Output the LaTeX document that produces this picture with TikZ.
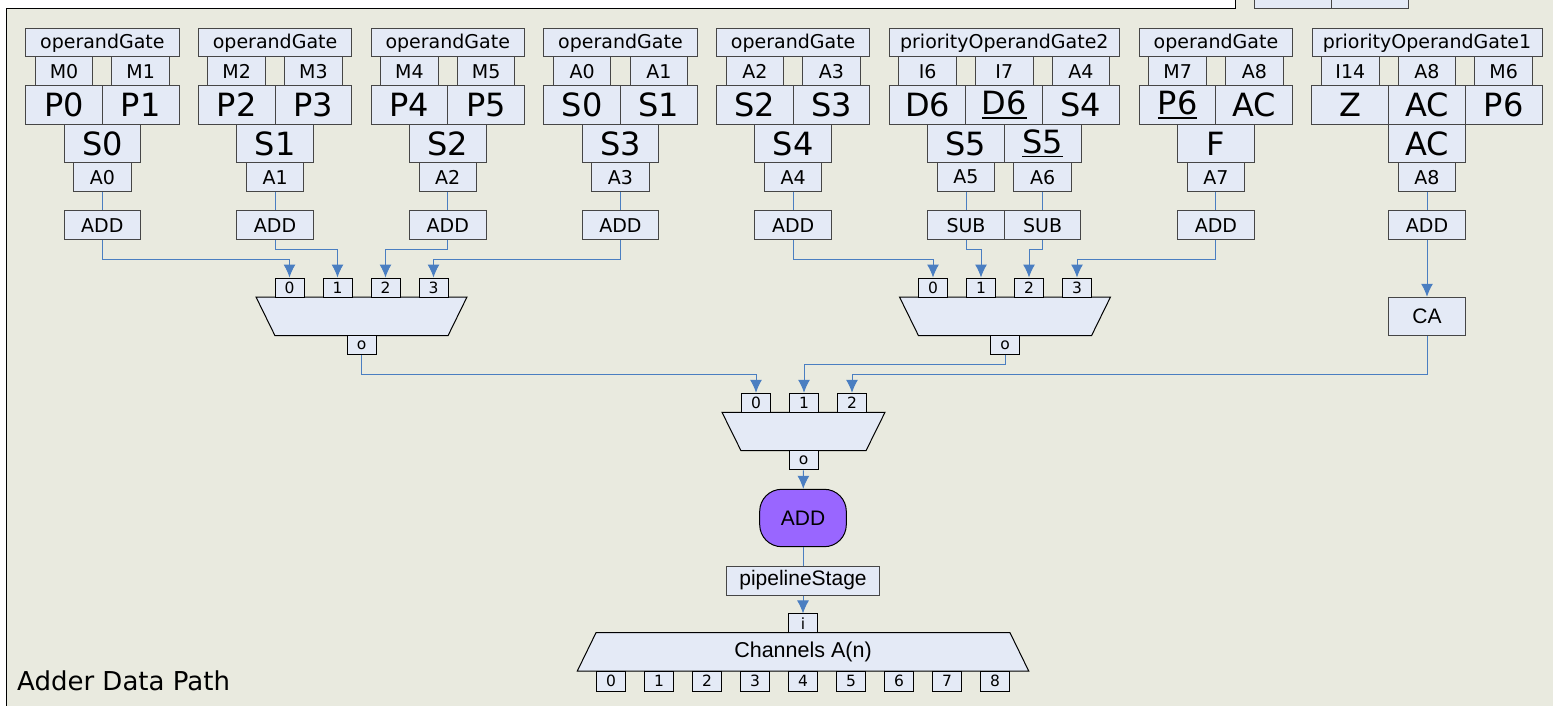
\documentclass[tikz,border=0pt]{standalone}
\usepackage{fontspec}
\setmainfont{DejaVu Sans}
\newfontfamily\arialfont{Liberation Sans}
\usepackage{tikz}
\usetikzlibrary{shapes,arrows,arrows.meta,positioning,calc}
\definecolor{panelbg}{RGB}{233,234,223}
\definecolor{cellfill}{RGB}{228,234,246}
\definecolor{cellline}{RGB}{70,70,70}
\definecolor{wireblue}{RGB}{74,126,193}
\definecolor{opviolet}{RGB}{153,102,255}
\newcommand{\ulabel}[1]{\setbox0\hbox{#1}\rlap{\rule[-4pt]{\wd0}{1.8pt}}\box0}

\begin{document}
\begin{tikzpicture}[x=1pt,y=-1pt,>={Latex[length=13pt,width=12pt]},
  cell/.style={draw=cellline,fill=cellfill,line width=1pt,inner sep=0pt,minimum height=29pt,font=\fontsize{19}{21}\selectfont},
  title/.style={cell,minimum height=28.3pt},
  pin/.style={cell,minimum width=57.5pt,minimum height=28.7pt},
  big/.style={cell,minimum width=76.7pt,minimum height=38.5pt,font=\fontsize{32}{34}\selectfont},
  tag/.style={cell,minimum width=57.4pt},
  op/.style={cell,minimum width=76.5pt},
  port/.style={cell,draw=black,minimum width=29pt,minimum height=19pt,font=\fontsize{15.5}{17}\selectfont},
  wire/.style={draw=wireblue,line width=1pt},
  mux/.style={draw=black,fill=cellfill,line width=1pt}]
\useasboundingbox (0,0) rectangle (1553,706);
\fill[panelbg] (0,0) rectangle (1553,706);
\fill[white] (0,0) rectangle (1235,9);
\fill[white] (0,0) rectangle (6,706);
\draw[line width=1pt] (6,706) -- (6,9) -- (1235,9) -- (1235,0);
\filldraw[mux,draw=cellline] (1254,0) -- (1254,9) -- (1408.3,9) -- (1408.3,0);
\draw[cellline,line width=1pt] (1331.7,0) -- (1331.7,9);

\node[title,minimum width=153.3pt] (gate1) at (102.35,42.85) {operandGate};
\node[pin] (m1a) at (64,71.35) {M0};
\node[pin] (m1b) at (140.7,71.35) {M1};
\node[big] (p1a) at (64,105) {P0};
\node[big] (p1b) at (140.7,105) {P1};
\node[big] (s1) at (102.35,143.5) {S0};
\node[tag] (a1) at (102.35,177.2) {A0};
\node[op] (add1) at (102.35,225.2) {ADD};

\node[title,minimum width=153.3pt] (gate2) at (275.05,42.85) {operandGate};
\node[pin] (m2a) at (236.7,71.35) {M2};
\node[pin] (m2b) at (313.4,71.35) {M3};
\node[big] (p2a) at (236.7,105) {P2};
\node[big] (p2b) at (313.4,105) {P3};
\node[big] (s2) at (275.05,143.5) {S1};
\node[tag] (a2) at (275.05,177.2) {A1};
\node[op] (add2) at (275.05,225.2) {ADD};

\node[title,minimum width=153.3pt] (gate3) at (447.75,42.85) {operandGate};
\node[pin] (m3a) at (409.4,71.35) {M4};
\node[pin] (m3b) at (486.1,71.35) {M5};
\node[big] (p3a) at (409.4,105) {P4};
\node[big] (p3b) at (486.1,105) {P5};
\node[big] (s3) at (447.75,143.5) {S2};
\node[tag] (a3) at (447.75,177.2) {A2};
\node[op] (add3) at (447.75,225.2) {ADD};

\node[title,minimum width=153.3pt] (gate4) at (620.45,42.85) {operandGate};
\node[pin] (m4a) at (582.1,71.35) {A0};
\node[pin] (m4b) at (658.8,71.35) {A1};
\node[big] (p4a) at (582.1,105) {S0};
\node[big] (p4b) at (658.8,105) {S1};
\node[big] (s4) at (620.45,143.5) {S3};
\node[tag] (a4) at (620.45,177.2) {A3};
\node[op] (add4) at (620.45,225.2) {ADD};

\node[title,minimum width=153.3pt] (gate5) at (793.15,42.85) {operandGate};
\node[pin] (m5a) at (754.8,71.35) {A2};
\node[pin] (m5b) at (831.5,71.35) {A3};
\node[big] (p5a) at (754.8,105) {S2};
\node[big] (p5b) at (831.5,105) {S3};
\node[big] (s5) at (793.15,143.5) {S4};
\node[tag] (a5) at (793.15,177.2) {A4};
\node[op] (add5) at (793.15,225.2) {ADD};

\node[title,minimum width=230pt] (gate6) at (1004.3,42.85) {priorityOperandGate2};
\node[pin] (m6a) at (927.65,71.35) {I6};
\node[pin] (m6b) at (1004.3,71.35) {I7};
\node[pin] (m6c) at (1080.95,71.35) {A4};
\node[big] (p6a) at (927.65,105) {D6};
\node[big] (p6b) at (1004.3,105) {\ulabel{D6}};
\node[big] (p6c) at (1080.95,105) {S4};
\node[big] (s6a) at (966,143.5) {S5};
\node[big] (s6b) at (1042.65,143.5) {\ulabel{S5}};
\node[tag] (a6a) at (966,177.2) {A5};
\node[tag] (a6b) at (1042.65,177.2) {A6};
\node[op] (sub6a) at (966,225.2) {SUB};
\node[op] (sub6b) at (1042.65,225.2) {SUB};

\node[title,minimum width=153.3pt] (gate7) at (1215.95,42.85) {operandGate};
\node[pin] (m7a) at (1177.6,71.35) {M7};
\node[pin] (m7b) at (1254.3,71.35) {A8};
\node[big] (p7a) at (1177.6,105) {\ulabel{P6}};
\node[big] (p7b) at (1254.3,105) {AC};
\node[big] (s7) at (1215.95,143.5) {F};
\node[tag] (a7) at (1215.95,177.2) {A7};
\node[op] (add7) at (1215.95,225.2) {ADD};

\node[title,minimum width=230pt] (gate8) at (1427,42.85) {priorityOperandGate1};
\node[pin] (m8a) at (1350.3,71.35) {I14};
\node[pin] (m8b) at (1427,71.35) {A8};
\node[pin] (m8c) at (1503.7,71.35) {M6};
\node[big] (p8a) at (1350.3,105) {Z};
\node[big] (p8b) at (1427,105) {AC};
\node[big] (p8c) at (1503.7,105) {P6};
\node[big] (s8) at (1427,143.5) {AC};
\node[tag] (a8) at (1427,177.2) {A8};
\node[op] (add8) at (1427,225.2) {ADD};

\node[big,font={\arialfont\fontsize{21}{23}\selectfont}] (ca) at (1427,316.5) {CA};

\filldraw[mux] (256,297) -- (467,297) -- (448,335.7) -- (275,335.7) -- cycle;
\node[port] (m1in0) at (289.5,287.5) {0};
\node[port] (m1in1) at (337.5,287.5) {1};
\node[port] (m1in2) at (385.5,287.5) {2};
\node[port] (m1in3) at (433.5,287.5) {3};
\node[port] (m1out) at (361.5,345.4) {o};

\filldraw[mux] (899.5,297) -- (1110.5,297) -- (1091.5,335.7) -- (918.5,335.7) -- cycle;
\node[port] (m2in0) at (933,287.5) {0};
\node[port] (m2in1) at (981,287.5) {1};
\node[port] (m2in2) at (1029,287.5) {2};
\node[port] (m2in3) at (1077,287.5) {3};
\node[port] (m2out) at (1005,345.4) {o};

\filldraw[mux] (722,412.3) -- (885,412.3) -- (866,450.7) -- (741,450.7) -- cycle;
\node[port] (m3in0) at (756,402.8) {0};
\node[port] (m3in1) at (804,402.8) {1};
\node[port] (m3in2) at (852,402.8) {2};
\node[port] (m3out) at (803.5,460.4) {o};

\node[draw=black,fill=opviolet,line width=1pt,rounded corners=22pt,inner sep=0pt,minimum width=86.6pt,minimum height=57.4pt,font={\arialfont\fontsize{21}{23}\selectfont}] (alu) at (803,518) {ADD};
\node[cell,minimum width=153.7pt,font={\arialfont\fontsize{21}{23}\selectfont}] (pipe) at (803,580.5) {pipelineStage};
\node[port,minimum height=18.7pt] (chin) at (803,623.3) {i};

\filldraw[mux] (596,632.7) -- (1010,632.7) -- (1028.7,671) -- (577.3,671) -- cycle;
\node[font={\arialfont\fontsize{21.5}{23}\selectfont}] (chan) at (803,651.7) {Channels A(n)};
\foreach \k in {0,...,8}
  \node[port,minimum height=20pt] (ch\k) at (611+48*\k,681) {\k};

\node[anchor=base west,inner sep=0pt,font=\fontsize{26}{28}\selectfont] (caption) at (17,690) {Adder Data Path};

\draw[wire] (a1) -- (add1);
\draw[wire] (a2) -- (add2);
\draw[wire] (a3) -- (add3);
\draw[wire] (a4) -- (add4);
\draw[wire] (a5) -- (add5);
\draw[wire] (a6a) -- (sub6a);
\draw[wire] (a6b) -- (sub6b);
\draw[wire] (a7) -- (add7);
\draw[wire] (a8) -- (add8);

\draw[wire,->] (add1.south) -- ++(0,19.3) -| (m1in0.north);
\draw[wire,->] (add2.south) -- ++(0,9.6) -| (m1in1.north);
\draw[wire,->] (add3.south) -- ++(0,9.6) -| (m1in2.north);
\draw[wire,->] (add4.south) -- ++(0,19.3) -| (m1in3.north);
\draw[wire,->] (add5.south) -- ++(0,19.3) -| (m2in0.north);
\draw[wire,->] (sub6a.south) -- ++(0,9.6) -| (m2in1.north);
\draw[wire,->] (sub6b.south) -- ++(0,9.6) -| (m2in2.north);
\draw[wire,->] (add7.south) -- ++(0,19.3) -| (m2in3.north);
\draw[wire,->] (add8) -- (ca);

\draw[wire,->] (m1out.south) -- ++(0,19) -| (m3in0.north);
\draw[wire,->] (m2out.south) -- ++(0,9.3) -| (m3in1.north);
\draw[wire,->] (ca.south) -- ++(0,38.3) -| (m3in2.north);
\draw[wire,->] (m3out) -- (alu);
\draw[wire] (alu) -- (pipe);
\draw[wire,->] (pipe) -- (chin);
\end{tikzpicture}
\end{document}
